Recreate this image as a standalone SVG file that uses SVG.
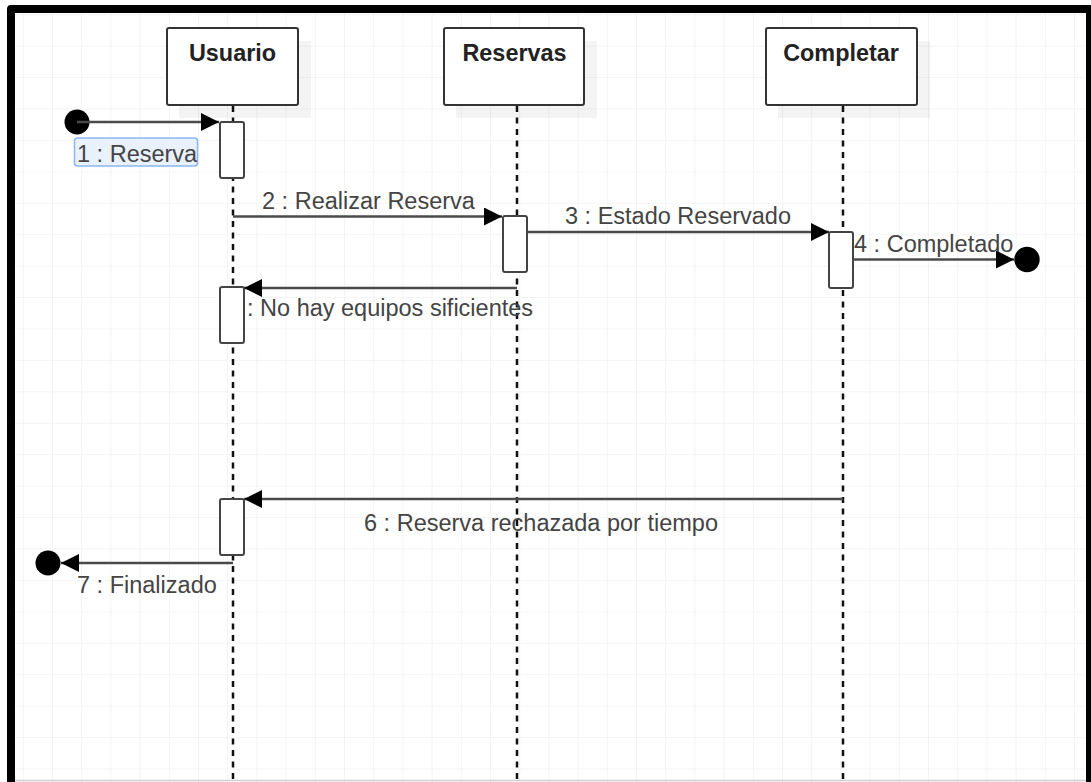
<svg xmlns="http://www.w3.org/2000/svg" width="1091" height="782" viewBox="0 0 1091 782">
  <style>
    .lbl { font-family: "Liberation Sans", Arial, sans-serif; font-size: 23.5px; fill: #444; }
    .head { font-family: "Liberation Sans", Arial, sans-serif; font-size: 23.4px; font-weight: bold; fill: #222; text-anchor: middle; }
    .box { fill: #fff; stroke: #333; stroke-width: 2; }
    .shadow { fill: #000; fill-opacity: 0.045; }
    .life { stroke: #111; stroke-width: 2.5; stroke-dasharray: 6 5.5; fill: none; }
    .act { fill: #fff; stroke: #444; stroke-width: 2; }
    .msg { stroke: #4a4a4a; stroke-width: 2.7; fill: none; }
    .dot { fill: #000; }
  </style>
  <defs>
    <pattern id="grid" patternUnits="userSpaceOnUse" x="22.8" y="14.2" width="29.2" height="31.43">
      <path d="M0 0 V31.43 M0 0 H29.2" stroke="#f1f1f1" stroke-width="1.6" fill="none"/>
    </pattern>
    <marker id="arrow" viewBox="0 0 18 18" refX="18" refY="9" markerWidth="18" markerHeight="18" orient="auto" markerUnits="userSpaceOnUse">
      <path d="M0 0 L18 9 L0 18 Z" fill="#000"/>
    </marker>
  </defs>

  <!-- canvas and frame -->
  <rect x="0" y="0" width="1091" height="782" fill="#fff"/>
  <rect x="15" y="13" width="1071" height="769" fill="url(#grid)"/>
  <line x1="15" y1="780.5" x2="1086" y2="780.5" stroke="#cfcfcf" stroke-width="1.5"/>
  <path d="M7 782 V9 Q7 5 11 5 H1091 V782 H1086 V13 H15 V782 Z" fill="#000"/>

  <!-- lifelines -->
  <g id="lifelines">
    <line class="life" x1="233" y1="106" x2="233" y2="782"/>
    <line class="life" x1="517" y1="106" x2="517" y2="782"/>
    <line class="life" x1="843" y1="106" x2="843" y2="782"/>
  </g>

  <!-- participants -->
  <g id="usuario">
    <rect class="shadow" x="179" y="41" width="132" height="77"/>
    <rect class="box" x="167" y="28" width="131" height="77" rx="2"/>
    <text class="head" x="232.5" y="61">Usuario</text>
  </g>
  <g id="reservas">
    <rect class="shadow" x="456" y="41" width="141" height="77"/>
    <rect class="box" x="444" y="28" width="140" height="77" rx="2"/>
    <text class="head" x="514.5" y="61">Reservas</text>
  </g>
  <g id="completar">
    <rect class="shadow" x="778" y="41" width="152" height="77"/>
    <rect class="box" x="766" y="28" width="151" height="77" rx="2"/>
    <text class="head" x="841" y="61">Completar</text>
  </g>

  <!-- activation bars -->
  <g id="activations">
    <rect class="act" x="220" y="122" width="24" height="56" rx="2"/>
    <rect class="act" x="503" y="216" width="24" height="56" rx="2"/>
    <rect class="act" x="220" y="287" width="24" height="56" rx="2"/>
    <rect class="act" x="829" y="232" width="24" height="56" rx="2"/>
    <rect class="act" x="220" y="499" width="24" height="56" rx="2"/>
  </g>

  <!-- messages -->
  <g id="connectors">
    <circle class="dot" cx="77" cy="122" r="12.5"/>
    <line class="msg" x1="77" y1="122" x2="219" y2="122" marker-end="url(#arrow)"/>

    <line class="msg" x1="233" y1="216.5" x2="502" y2="216.5" marker-end="url(#arrow)"/>
    <line class="msg" x1="527" y1="232" x2="829" y2="232" marker-end="url(#arrow)"/>

    <line class="msg" x1="853" y1="259.5" x2="1014" y2="259.5" marker-end="url(#arrow)"/>
    <circle class="dot" cx="1027" cy="259.5" r="12.7"/>

    <line class="msg" x1="517" y1="288" x2="244" y2="288" marker-end="url(#arrow)"/>
    <line class="msg" x1="843" y1="499" x2="244" y2="499" marker-end="url(#arrow)"/>

    <line class="msg" x1="233" y1="563" x2="61" y2="563" marker-end="url(#arrow)"/>
    <circle class="dot" cx="48" cy="563" r="12.5"/>
  </g>

  <!-- message labels -->
  <g id="labels">
    <rect x="74.5" y="138" width="123" height="28" rx="3" fill="#e9f1fc" stroke="#8bb6ef" stroke-width="1.5"/>
    <text class="lbl" x="77" y="162">1 : Reserva</text>
    <text class="lbl" x="262" y="209">2 : Realizar Reserva</text>
    <text class="lbl" x="565" y="224">3 : Estado Reservado</text>
    <text class="lbl" x="854" y="252">4 : Completado</text>
    <text class="lbl" x="247" y="316">: No hay equipos sificientes</text>
    <text class="lbl" x="364" y="531">6 : Reserva rechazada por tiempo</text>
    <text class="lbl" x="77" y="593">7 : Finalizado</text>
  </g>
</svg>
